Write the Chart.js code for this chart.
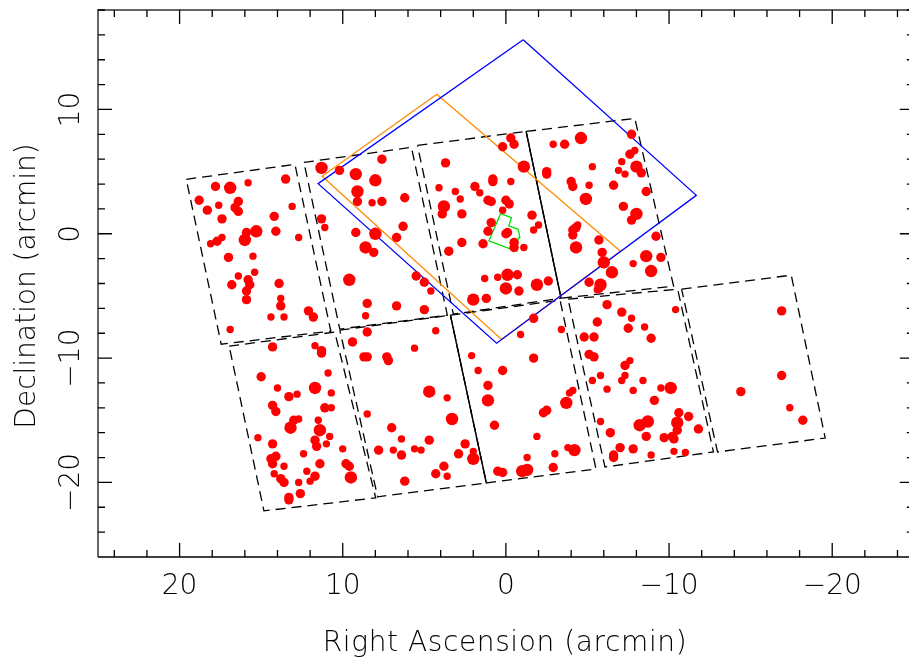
<!DOCTYPE html>
<html>
<head>
<meta charset="utf-8">
<script src="https://cdn.jsdelivr.net/npm/chart.js@4"></script>
<style>
html, body { margin: 0; padding: 0; overflow: hidden; background: #fff; }
canvas { display: block; }
</style>
</head>
<body>
<canvas id="skyChart" width="920" height="660"></canvas>
<script>
// offsets from field centre, arcmin (RA grows to the left)
const starRA = [
  // chip A
  17.8, 16.9, 15.8, 13.5, 18.8, 17.6, 16.4, 18.3, 16.6, 16.4, 17.4, 13.1, 14.2, 15.3, 15.9, 14.1, 18.1, 17.7, 17.4, 16.0,
  12.7, 17.0, 15.5, 15.4, 16.4, 16.8, 15.8, 15.7, 13.9, 15.9, 15.9, 13.8, 13.8, 14.4, 13.6, 12.1, 11.8, 16.9,
  // chip B
  11.3, 10.2, 9.2, 7.6, 8.0, 9.1, 9.1, 8.2, 7.6, 6.2, 11.3, 11.1, 9.2, 8.0, 6.3, 6.7, 8.6, 8.1, 9.6, 5.5,
  5.0, 4.6, 8.5, 6.7, 5.0, 8.6,
  // chip C
  3.7, 4.1, 3.1, 2.8, 1.9, 1.6, 0.8, 0.8, -0.3, 1.1, 0.9, 0.0, -0.2, 3.8, 3.9, 2.7, 0.2, -1.6, 0.2, -0.3,
  -0.5, -1.1, 0.9, 1.1, -0.1, 0.0, -0.5, -0.5, -1.1, -2.0, -1.7, 2.7, 3.5, 1.4, 1.3, 0.5, -0.1, -0.7, 0.0, -0.8,
  -1.9, -2.6, 2.0, 1.2,
  // chip D
  -2.9, -3.6, -4.6, -5.3, -2.5, -2.5, -4.0, -4.1, -5.1, -4.9, -7.7, -7.9, -7.6, -7.1, -8.0, -6.9, -7.3, -8.3, -6.6, -8.6,
  -7.2, -8.0, -7.7, -4.3, -4.1, -4.1, -4.4, -4.3, -5.1, -5.6, -9.2, -5.7, -5.9, -8.6, -9.5, -7.8, -8.9, -6.0, -6.5, -5.8,
  -5.7,
  // chip L1
  14.3, 11.7, 11.3, 11.3, 15.0, 10.9, 14.0, 11.7, 13.3, 12.8, 10.7, 14.3, 14.1, 11.1, 10.7, 13.0, 12.7, 13.2, 11.5, 11.4,
  15.2, 14.3, 10.8, 11.7, 11.6, 11.0, 10.0, 12.4, 14.1, 14.4, 14.3, 13.6, 11.4, 9.8, 9.6, 14.2, 12.2, 11.7, 9.5, 13.8,
  13.6, 12.7, 12.0, 12.6, 13.3, 13.3,
  // chip L2
  9.4, 8.5, 4.3, 5.6, 8.7, 8.5, 7.3, 7.2, 4.7, 3.6, 8.5, 3.3, 7.0, 6.4, 4.7, 2.5, 7.8, 6.9, 6.4, 5.6,
  5.2, 2.9, 2.0, 2.0, 3.8, 4.3, 3.6, 6.2,
  // chip L3
  -1.7, -0.9, -3.4, 2.1, 1.7, 0.2, -1.7, 1.1, 1.1, -2.5, -2.3, -4.1, -3.9, -3.7, 0.7, -1.9, -3.0, -3.8, -4.2, -1.3,
  -2.9, 0.5, 0.2, -1.0, -1.3,
  // chip L4
  -6.2, -7.1, -5.6, -7.5, -7.7, -8.5, -8.9, -10.4, -4.8, -5.4, -5.1, -5.4, -7.6, -7.3, -7.3, -7.1, -5.8, -5.3, -6.2, -7.8,
  -8.4, -9.5, -10.1, -9.1, -5.8, -6.4, -10.6, -11.2, -10.5, -10.5, -11.8, -8.7, -8.2, -8.6, -9.7, -10.2, -10.3, -7.0, -7.8, -6.6,
  -6.6, -8.9, -10.3, -11.0,
  // chip L5
  -16.9, -16.9, -14.4, -17.4, -18.2
];
const starDec = [
  3.8, 3.7, 4.1, 4.4, 2.7, 2.3, 2.6, 1.9, 2.1, 1.8, 1.2, 2.2, 1.4, 0.2, 0.1, 0.2, -0.8, -0.6, -0.3, -0.5,
  -0.3, -1.9, -1.8, -3.1, -3.4, -4.1, -3.7, -4.1, -4.0, -4.6, -5.3, -5.2, -5.8, -6.7, -6.7, -6.2, -6.7, -7.7,
  5.3, 5.1, 4.8, 6.0, 4.3, 3.4, 2.6, 2.5, 2.6, 2.9, 1.2, 0.5, 0.1, 0.0, 0.6, -0.3, -1.1, -1.5, -3.7, -3.4,
  -3.9, -4.6, -5.6, -5.8, -6.1, -6.6,
  5.7, 3.7, 3.4, 2.8, 3.8, 3.3, 4.4, 4.2, 4.2, 2.7, 2.6, 2.7, 2.4, 2.2, 1.6, 1.6, 1.9, 1.5, 7.0, 7.7,
  7.2, 5.4, 0.9, 0.2, 0.1, 0.0, -0.7, -1.1, -1.1, 0.7, 0.3, -0.7, -1.4, -0.8, -3.6, -3.5, -3.3, -3.3, -4.4, -4.6,
  -4.1, -3.8, -5.3, -5.2,
  7.2, 7.2, 7.7, 5.4, 5.0, 4.8, 4.2, 3.8, 3.9, 2.8, 8.0, 6.7, 6.4, 5.8, 5.4, 5.1, 4.8, 4.9, 3.9, 3.4,
  2.2, 1.6, 1.1, 0.5, 0.3, -0.1, 0.7, -1.1, -3.9, -4.5, -0.2, -0.5, -1.5, -1.8, -1.9, -2.4, -3.0, -2.3, -3.1, -4.1,
  -4.4,
  -9.1, -9.0, -9.4, -9.6, -11.5, -11.2, -12.4, -12.4, -13.1, -12.9, -12.8, -13.8, -14.3, -14.0, -14.0, -15.0, -14.9, -15.6, -15.0, -15.8,
  -16.4, -16.9, -16.3, -16.6, -17.1, -16.9, -17.3, -17.7, -17.9, -18.1, -18.5, -18.7, -18.5, -18.5, -18.7, -19.3, -19.1, -19.5, -19.6, -19.7,
  -20.0, -20.0, -19.9, -20.9, -21.2, -21.4,
  -8.7, -7.9, -7.8, -9.2, -9.9, -9.9, -9.9, -10.2, -12.7, -13.2, -14.5, -14.9, -15.6, -16.5, -16.6, -16.9, -17.4, -17.4, -17.8, -17.3,
  -17.4, -17.7, -17.5, -18.1, -18.7, -19.3, -19.5, -19.9,
  -6.8, -8.1, -7.7, -9.8, -11.0, -11.0, -10.0, -12.2, -13.4, -14.2, -14.4, -12.6, -12.8, -13.6, -15.4, -16.3, -17.7, -17.2, -17.4, -18.0,
  -18.8, -19.1, -19.2, -19.1, -19.0,
  -5.7, -6.3, -7.1, -7.6, -6.8, -7.5, -8.4, -6.1, -8.3, -8.3, -9.7, -9.9, -10.2, -10.6, -11.4, -11.8, -11.4, -11.8, -12.5, -12.6,
  -11.8, -12.4, -12.4, -13.4, -15.1, -16.0, -14.4, -14.7, -15.2, -15.8, -15.7, -15.1, -15.4, -16.3, -16.4, -16.3, -16.5, -17.2, -17.3, -17.8,
  -18.0, -17.8, -17.5, -17.6,
  -6.2, -11.4, -12.7, -14.0, -15.0
];
// brightness class: 1 faint, 2 medium, 3 bright
const starMag = [
  2, 3, 1, 2, 2, 1, 2, 2, 2, 2, 2, 1, 2, 3, 2, 2, 1, 2, 1, 3,
  1, 2, 1, 1, 1, 2, 2, 2, 2, 2, 2, 1, 2, 1, 1, 2, 2, 1,
  3, 2, 3, 2, 3, 3, 2, 1, 2, 2, 2, 1, 2, 3, 2, 2, 3, 2, 3, 2,
  2, 1, 2, 2, 2, 1,
  2, 1, 1, 1, 2, 1, 2, 2, 1, 2, 2, 2, 2, 3, 2, 2, 1, 2, 2, 2,
  2, 3, 2, 2, 2, 2, 2, 2, 1, 1, 1, 2, 2, 2, 1, 1, 3, 2, 3, 2,
  3, 2, 3, 2,
  1, 2, 3, 1, 2, 2, 2, 2, 1, 3, 2, 1, 2, 1, 3, 1, 1, 2, 2, 2,
  2, 3, 2, 2, 2, 2, 1, 3, 2, 1, 2, 2, 2, 3, 2, 1, 3, 3, 3, 3,
  2,
  2, 1, 2, 2, 2, 1, 1, 3, 2, 1, 1, 2, 2, 2, 1, 2, 1, 3, 1, 3,
  1, 2, 1, 2, 2, 1, 1, 1, 2, 2, 2, 1, 2, 2, 2, 1, 1, 2, 3, 2,
  2, 1, 1, 2, 2, 2,
  2, 2, 1, 1, 2, 2, 2, 2, 3, 1, 1, 3, 2, 1, 2, 2, 2, 1, 2, 1,
  1, 2, 1, 3, 2, 2, 1, 2,
  2, 1, 1, 1, 1, 2, 2, 2, 3, 2, 2, 1, 1, 3, 2, 1, 1, 1, 3, 1,
  2, 2, 2, 3, 3,
  2, 2, 2, 2, 1, 1, 2, 1, 2, 2, 2, 2, 1, 2, 1, 1, 1, 1, 1, 1,
  1, 1, 3, 2, 1, 2, 2, 2, 3, 2, 2, 3, 3, 2, 2, 2, 2, 2, 2, 2,
  2, 1, 1, 1,
  2, 2, 2, 1, 2
];

// CCD chips of the mosaic, corners TL, TR, BR, BL
const chipNames = ['A', 'B', 'C', 'D', 'L1', 'L2', 'L3', 'L4', 'L5'];
const chipRA = [
  [19.59, 12.93, 10.73, 17.45],
  [12.38, 5.79, 3.59, 10.18],
  [5.42, -1.24, -3.38, 3.22],
  [-1.24, -7.90, -10.28, -3.38],
  [16.96, 10.49, 7.98, 14.83],
  [10.18, 3.40, 1.20, 7.86],
  [3.40, -3.32, -5.52, 1.20],
  [-3.81, -10.53, -12.72, -6.07],
  [-10.77, -17.49, -19.57, -12.97]
];
const chipDec = [
  [4.38, 5.58, -7.83, -8.88],
  [5.74, 6.95, -6.55, -7.67],
  [7.11, 8.23, -5.18, -6.47],
  [8.23, 9.28, -4.22, -5.18],
  [-9.04, -7.91, -21.24, -22.29],
  [-7.75, -6.55, -20.04, -21.16],
  [-6.55, -5.34, -18.92, -20.04],
  [-5.26, -4.46, -17.55, -18.76],
  [-4.46, -3.33, -16.43, -17.55]
];
// shared chip edges drawn solid
const seamRA = [[-1.24, -3.38], [3.40, 1.20]];
const seamDec = [[8.23, -5.18], [-6.55, -20.04]];

const blueRA = [-1.06, 11.51, 0.57, -11.67];
const blueDec = [15.6, 4.03, -8.80, 3.09];
const orangeRA = [4.24, 11.26, 0.27, -7.02];
const orangeDec = [11.23, 4.62, -8.50, -1.41];
const greenRA = [0.33, -0.34, -0.18, -0.75, -0.86, -0.75, -0.67, 1.04];
const greenDec = [1.62, 1.30, 0.63, 0.36, -0.31, -0.34, -1.41, -0.58];

const xMajor = [20, 10, 0, -10, -20];
const yMajor = [10, 0, -10, -20];

const dotRadius = {1: 3.7, 2: 4.7, 3: 6.2};
const FONT = '200 28px "DejaVu Sans"';

function ring(ra, dec) {
  const pts = ra.map((v, i) => ({x: v, y: dec[i]}));
  pts.push(pts[0]);
  return pts;
}

function outline(pts, color, dash) {
  return {
    data: pts,
    showLine: true,
    borderColor: color,
    borderWidth: 1.3,
    borderDash: dash,
    pointRadius: 0,
    fill: false,
    tension: 0
  };
}

const datasets = [];
datasets.push({
  data: starRA.map((v, i) => ({x: v, y: starDec[i]})),
  backgroundColor: '#ff0000',
  borderWidth: 0,
  pointRadius: ctx => dotRadius[starMag[ctx.dataIndex]],
  pointHoverRadius: ctx => dotRadius[starMag[ctx.dataIndex]]
});
datasets.push(outline(ring(blueRA, blueDec), '#0000ff', []));
datasets.push(outline(ring(orangeRA, orangeDec), '#ff8c00', []));
datasets.push(outline(ring(greenRA, greenDec), '#00e000', []));
chipRA.forEach((ra, i) => datasets.push(outline(ring(ra, chipDec[i]), '#000', [10, 6])));
seamRA.forEach((ra, i) => {
  datasets.push(outline([{x: ra[0], y: seamDec[i][0]}, {x: ra[1], y: seamDec[i][1]}], '#000', []));
});

function label(v) {
  return v < 0 ? '\u2212' + Math.abs(v) : String(v);
}

const framePlugin = {
  id: 'frame',
  afterDraw(chart) {
    const ctx = chart.ctx;
    const a = chart.chartArea;
    const xs = chart.scales.x, ys = chart.scales.y;
    ctx.save();

    // frame
    ctx.strokeStyle = '#666';
    ctx.lineWidth = 2;
    ctx.beginPath();
    ctx.moveTo(a.left, a.bottom);
    ctx.lineTo(a.left, a.top);
    ctx.lineTo(a.right, a.top);
    ctx.lineTo(a.right, a.bottom);
    ctx.stroke();
    ctx.strokeStyle = '#000';
    ctx.lineWidth = 1.6;
    ctx.beginPath();
    ctx.moveTo(a.left, a.bottom);
    ctx.lineTo(a.right, a.bottom);
    ctx.stroke();

    // inward ticks, minor every 2 arcmin
    ctx.strokeStyle = '#000';
    ctx.lineWidth = 1.3;
    ctx.beginPath();
    for (let v = -24; v <= 24; v += 2) {
      const px = xs.getPixelForValue(v);
      const len = v % 10 === 0 ? 14 : 7;
      ctx.moveTo(px, a.bottom); ctx.lineTo(px, a.bottom - len);
      ctx.moveTo(px, a.top); ctx.lineTo(px, a.top + len);
    }
    for (let v = -24; v <= 18; v += 2) {
      const py = ys.getPixelForValue(v);
      const len = v % 10 === 0 ? 14 : 7;
      ctx.moveTo(a.left, py); ctx.lineTo(a.left + len, py);
      ctx.moveTo(a.right, py); ctx.lineTo(a.right - len, py);
    }
    ctx.stroke();

    // tick labels
    ctx.fillStyle = '#000';
    ctx.font = FONT;
    ctx.textAlign = 'center';
    ctx.textBaseline = 'alphabetic';
    xMajor.forEach(v => ctx.fillText(label(v), xs.getPixelForValue(v), 594));
    yMajor.forEach(v => {
      ctx.save();
      ctx.translate(79, ys.getPixelForValue(v));
      ctx.rotate(-Math.PI / 2);
      ctx.fillText(label(v), 0, 0);
      ctx.restore();
    });

    // axis titles
    ctx.letterSpacing = '0.6px';
    ctx.fillText('Right Ascension (arcmin)', 505, 651);
    ctx.save();
    ctx.translate(35, 286);
    ctx.rotate(-Math.PI / 2);
    ctx.letterSpacing = '0px';
    ctx.fillText('Declination (arcmin)', 0, 0);
    ctx.restore();
    ctx.restore();
  }
};

new Chart('skyChart', {
  type: 'scatter',
  data: {datasets: datasets},
  options: {
    responsive: false,
    animation: false,
    layout: {padding: {left: 98, top: 10, right: 4, bottom: 103}},
    plugins: {legend: {display: false}, tooltip: {enabled: false}},
    scales: {
      x: {type: 'linear', reverse: true, min: -25, max: 25, display: false},
      y: {type: 'linear', min: -26, max: 18, display: false}
    }
  },
  plugins: [framePlugin]
});
</script>
</body>
</html>
